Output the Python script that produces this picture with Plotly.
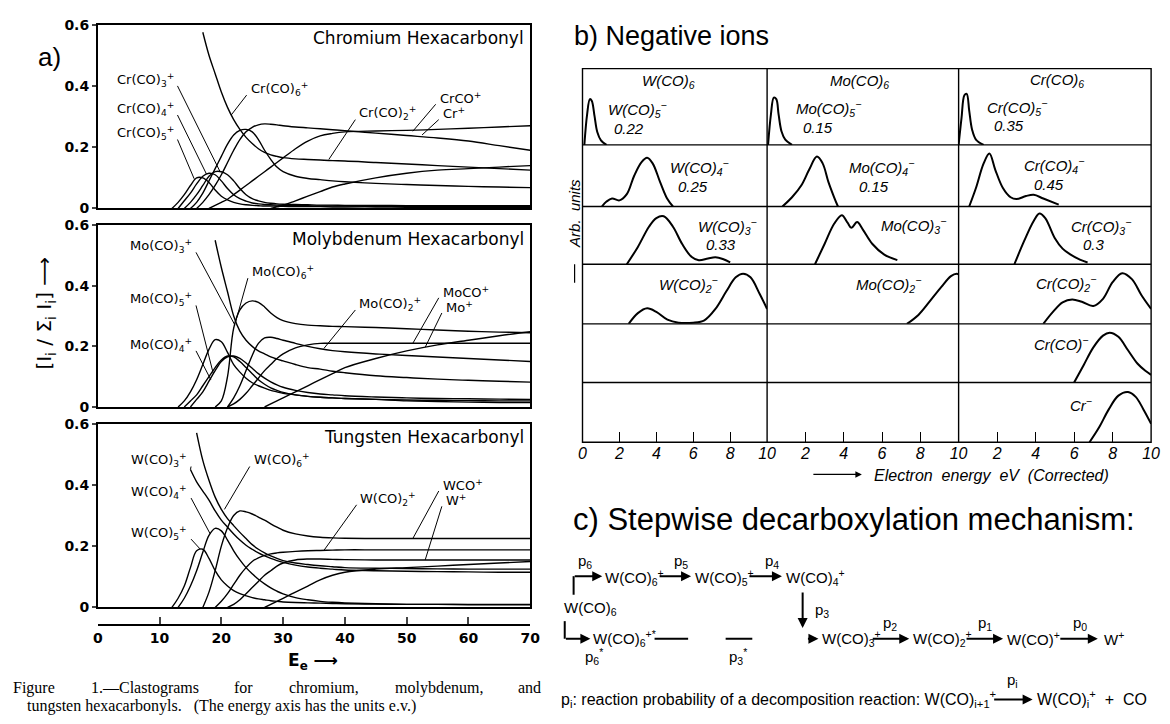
import plotly.graph_objects as go

N = None
# ---------------- a) clastograms: fraction of total ion current vs electron energy (eV)
E = [12, 13, 14, 15, 16, 17, 18, 19, 20, 21, 22, 23, 24, 25, 26, 27, 28, 29, 30,
     32, 34, 36, 38, 40, 45, 50, 55, 60, 65, 70]

CR_CO6 = [N, N, N, N, N, .575, .50, .44, .38, .33, .29, .258, .232, .212, .195, .183, .175, .17, .166,
          .162, .16, .158, .156, .155, .15, .145, .14, .135, .13, .125]
CR_A = [N, N, N, N, 0, .02, .045, .075, .11, .15, .19, .225, .25, .265, .273, .276, .275, .273, .27,
        .266, .263, .26, .257, .254, .246, .238, .23, .22, .205, .19]
CR_B = [N, N, N, 0, .02, .05, .09, .13, .17, .21, .24, .255, .258, .25, .225, .19, .16, .135, .12,
        .105, .098, .094, .09, .087, .082, .078, .075, .072, .07, .068]
CR_C = [N, N, N, N, N, N, 0, .01, .02, .03, .045, .06, .075, .09, .105, .12, .135, .15, .165,
        .195, .22, .237, .245, .25, .253, .255, .258, .262, .266, .27]
CR_CO5 = [0, .02, .045, .075, .10, .10, .085, .06, .04, .028, .02, .015, .012, .01, .009, .008, .008, .007, .007,
          .006, .006, .006, .005, .005, .005, .004, .004, .004, .004, .004]
CR_CO4 = [N, 0, .025, .05, .08, .105, .115, .11, .09, .065, .045, .032, .024, .018, .015, .013, .012, .011, .01,
          .009, .009, .008, .008, .008, .007, .007, .006, .006, .006, .006]
CR_CO3 = [N, N, 0, .02, .045, .075, .105, .12, .12, .11, .09, .065, .045, .032, .025, .02, .017, .015, .014,
          .013, .012, .011, .011, .01, .01, .009, .009, .009, .009, .009]
CR_PLUS = [N, N, N, N, N, N, N, N, N, N, N, N, N, N, N, N, 0, .005, .01,
           .025, .04, .055, .07, .08, .1, .115, .125, .13, .135, .14]

MO_CO6 = [N, N, N, N, N, N, N, .55, .46, .38, .30, .25, .22, .20, .185, .175, .165, .158, .152,
          .14, .13, .125, .118, .113, .103, .097, .092, .088, .085, .082]
MO_BIG = [N, N, N, N, N, N, N, 0, .02, .10, .26, .32, .343, .35, .345, .33, .31, .295, .285,
          .275, .27, .268, .266, .265, .262, .258, .254, .25, .247, .245]
MO_CO4 = [N, 0, .02, .05, .09, .14, .19, .222, .215, .18, .14, .115, .095, .08, .07, .062, .055, .05, .045,
          .04, .035, .032, .03, .028, .025, .023, .022, .021, .02, .02]
MO_CO5 = [N, N, 0, .02, .04, .07, .10, .13, .155, .168, .165, .15, .13, .11, .09, .075, .063, .055, .048,
          .04, .035, .032, .03, .028, .025, .02, .018, .016, .015, .015]
MO_CO5B = [N, N, N, 0, .025, .05, .085, .12, .15, .165, .168, .16, .145, .128, .11, .095, .083, .073, .065,
           .055, .048, .043, .04, .037, .033, .03, .028, .027, .026, .025]
MO_CO2 = [N, N, N, N, N, N, N, N, N, 0, .03, .07, .12, .17, .21, .228, .23, .226, .22,
          .21, .2, .192, .186, .182, .175, .17, .165, .16, .155, .15]
MO_CO1 = [N, N, N, N, N, N, N, N, N, 0, .01, .025, .045, .07, .095, .12, .14, .16, .175,
          .195, .205, .21, .21, .21, .21, .21, .21, .21, .21, .21]
MO_PLUS = [N, N, N, N, N, N, N, N, N, N, N, N, N, N, N, 0, .01, .02, .03,
           .05, .07, .09, .11, .13, .16, .185, .205, .22, .235, .248]

W_CO6 = [N, N, N, N, .57, .48, .415, .36, .32, .29, .267, .245, .225, .205, .19, .178, .168, .16, .153,
         .145, .14, .136, .133, .13, .128, .127, .126, .125, .125, .125]
W_CO3 = [N, N, N, .45, .41, .38, .35, .315, .285, .262, .24, .22, .203, .19, .178, .168, .16, .153, .147,
         .138, .132, .128, .125, .122, .12, .118, .117, .116, .115, .115]
W_CO5 = [0, .03, .07, .13, .185, .19, .16, .12, .09, .07, .055, .045, .038, .032, .028, .025, .022, .02, .018,
         .016, .015, .014, .013, .012, .011, .01, .01, .01, .01, .01]
W_CO4 = [N, 0, .03, .07, .12, .18, .235, .258, .25, .22, .185, .155, .13, .11, .092, .077, .064, .053, .044,
         .032, .025, .02, .017, .015, .012, .01, .01, .009, .009, .009]
W_BIG = [N, N, N, N, N, 0, .05, .12, .2, .26, .3, .315, .312, .305, .295, .285, .273, .262, .252,
         .24, .233, .229, .227, .226, .225, .225, .225, .225, .225, .225]
W_CO2 = [N, N, N, N, N, N, N, 0, .02, .045, .075, .105, .13, .15, .162, .17, .175, .178, .18,
         .183, .185, .186, .187, .188, .188, .188, .188, .188, .188, .188]
W_CO1 = [N, N, N, N, N, N, N, N, N, 0, .01, .025, .045, .065, .085, .105, .12, .135, .145,
         .155, .158, .158, .157, .156, .155, .155, .155, .155, .155, .155]
W_PLUS = [N, N, N, N, N, N, N, N, N, N, N, N, N, N, N, 0, .01, .02, .03,
          .05, .07, .09, .105, .115, .125, .13, .135, .14, .145, .15]

A_TICKS = [0, 10, 20, 30, 40, 50, 60, 70]
A_YTICKS = [0, 0.2, 0.4, 0.6]
A_YTEXT = ["0", "0.2", "0.4", "0.6"]

# ---------------- b) negative ions: energy (eV) and relative yield within each cell
W5_E = [0.1, 0.25, 0.4, 0.5, 0.65, 0.8, 1.0, 1.3]
W5_I = [0, 0.4, 0.6, 0.58, 0.38, 0.17, 0.06, 0]
MO5_E = [0.05, 0.2, 0.35, 0.48, 0.6, 0.75, 0.95, 1.3]
MO5_I = [0, 0.4, 0.62, 0.6, 0.4, 0.18, 0.07, 0]
CR5_E = [0.0, 0.15, 0.3, 0.42, 0.55, 0.7, 0.9, 1.3]
CR5_I = [0, 0.35, 0.65, 0.67, 0.45, 0.2, 0.07, 0]
W4_E = [1.05, 1.3, 1.6, 2.0, 2.4, 2.8, 3.2, 3.5, 3.8, 4.2, 4.6, 4.9]
W4_I = [0, 0.08, 0.13, 0.1, 0.2, 0.5, 0.72, 0.79, 0.7, 0.4, 0.12, 0]
MO4_E = [0.8, 1.3, 1.8, 2.2, 2.6, 2.9, 3.2, 3.5, 3.7]
MO4_I = [0, 0.15, 0.35, 0.6, 0.81, 0.7, 0.4, 0.15, 0]
CR4_E = [0.55, 0.9, 1.3, 1.6, 1.9, 2.3, 2.7, 3.0, 3.5, 3.9, 4.4, 5.2]
CR4_I = [0, 0.3, 0.7, 0.86, 0.6, 0.3, 0.15, 0.12, 0.17, 0.19, 0.13, 0.03]
W3_E = [2.4, 3.0, 3.6, 4.0, 4.4, 4.9, 5.4, 5.9, 6.3, 6.8, 7.2, 7.6, 8.0]
W3_I = [0, 0.3, 0.65, 0.8, 0.83, 0.65, 0.35, 0.13, 0.07, 0.1, 0.12, 0.09, 0.03]
MO3_E = [2.5, 3.0, 3.5, 3.9, 4.2, 4.4, 4.7, 5.0, 5.5, 6.1, 6.8]
MO3_I = [0, 0.35, 0.7, 0.85, 0.72, 0.63, 0.73, 0.6, 0.35, 0.17, 0.07]
CR3_E = [2.9, 3.4, 3.9, 4.2, 4.5, 5.0, 5.4, 5.8, 6.3, 6.7]
CR3_I = [0, 0.4, 0.75, 0.88, 0.8, 0.45, 0.27, 0.17, 0.08, 0.03]
W2_E = [2.5, 3.0, 3.5, 4.0, 4.6, 5.2, 6.0, 6.6, 7.2, 7.8, 8.3, 8.7, 9.1, 9.6, 10.0]
W2_I = [0, 0.18, 0.26, 0.2, 0.07, 0.02, 0.02, 0.06, 0.25, 0.55, 0.78, 0.84, 0.78, 0.5, 0.25]
MO2_E = [7.3, 7.9, 8.5, 9.1, 9.6, 9.9, 10.0]
MO2_I = [0, 0.15, 0.38, 0.62, 0.8, 0.84, 0.83]
CR2_E = [4.4, 4.9, 5.4, 5.9, 6.4, 7.0, 7.5, 8.0, 8.5, 9.0, 9.5, 10.0]
CR2_I = [0, 0.2, 0.36, 0.41, 0.37, 0.3, 0.42, 0.7, 0.85, 0.75, 0.48, 0.25]
CR1_E = [6.0, 6.5, 7.0, 7.5, 7.85, 8.3, 8.8, 9.3, 9.7, 10.0]
CR1_I = [0, 0.3, 0.6, 0.8, 0.85, 0.78, 0.55, 0.32, 0.2, 0.13]
CR0_E = [6.8, 7.3, 7.8, 8.3, 8.8, 9.2, 9.6, 10.0]
CR0_I = [0, 0.25, 0.55, 0.78, 0.84, 0.76, 0.55, 0.31]

B_TICKS_FIRST = [0, 2, 4, 6, 8, 10]
B_TICKS = [2, 4, 6, 8, 10]

# ---------------- layout helpers (pixel -> paper)
WID, HEI = 1170, 724


def px(x):
    return x / WID


def py(y):
    return 1 - y / HEI


FONT = "Liberation Sans"
WIDE = "DejaVu Sans"
SERIF = "Liberation Serif"
NB = "\u00a0"
fig = go.Figure()

# ---------- a) axes
A_XDOM = [px(94), px(532)]
a_ydoms = [[py(205), py(17)], [py(408), py(222)], [py(613), py(425)]]
for i, yd in enumerate(a_ydoms):
    sfx = "" if i == 0 else str(i + 1)
    fig.layout["xaxis" + sfx] = dict(domain=A_XDOM, range=[0, 70], anchor="y" + sfx, showline=True,
                                     mirror=True, linecolor="black", linewidth=1.6, ticks="",
                                     showticklabels=False, showgrid=False, zeroline=False)
    fig.layout["yaxis" + sfx] = dict(domain=yd, range=[0, 0.6], anchor="x" + sfx, showline=True,
                                     mirror=True, linecolor="black", linewidth=1.6, ticks="outside",
                                     ticklen=4, tickwidth=1.5, tickvals=A_YTICKS, ticktext=A_YTEXT,
                                     tickfont=dict(family=WIDE, size=14, color="black", weight="bold"),
                                     showgrid=False, zeroline=False)
# separate energy axis below the three panels
fig.layout["xaxis4"] = dict(domain=A_XDOM, range=[0, 70], anchor="free", overlaying="x3", position=py(631),
                            showline=True, linecolor="black", linewidth=2, ticks="inside", ticklen=7,
                            tickwidth=1.5, tickvals=A_TICKS,
                            tickfont=dict(family=WIDE, size=14, color="black", weight="bold"),
                            showgrid=False, zeroline=False)
fig.add_trace(go.Scatter(x=[0, 70], y=[None, None], xaxis="x4", yaxis="y3", showlegend=False,
                         hoverinfo="skip"))

curves = [
    ("", CR_CO6), ("", CR_A), ("", CR_B), ("", CR_C), ("", CR_CO5), ("", CR_CO4), ("", CR_CO3), ("", CR_PLUS),
    ("2", MO_CO6), ("2", MO_BIG), ("2", MO_CO4), ("2", MO_CO5), ("2", MO_CO5B), ("2", MO_CO2), ("2", MO_CO1),
    ("2", MO_PLUS),
    ("3", W_CO6), ("3", W_CO3), ("3", W_CO5), ("3", W_CO4), ("3", W_BIG), ("3", W_CO2), ("3", W_CO1),
    ("3", W_PLUS),
]
for sfx, ys in curves:
    fig.add_trace(go.Scatter(x=E, y=ys, mode="lines", xaxis="x" + sfx, yaxis="y" + sfx,
                             line=dict(color="black", width=1.4, shape="spline", smoothing=1.0),
                             connectgaps=False, showlegend=False, hoverinfo="skip"))

annotations = []
shapes = []

# panel titles
for sfx, title in [("", "Chromium Hexacarbonyl"), ("2", "Molybdenum Hexacarbonyl"), ("3", "Tungsten Hexacarbonyl")]:
    annotations.append(dict(xref="x" + sfx, yref="y" + sfx, x=69.4, y=0.555, text=title, showarrow=False,
                            xanchor="right", yanchor="middle", font=dict(family=WIDE, size=17, color="black")))

# ion labels with leader lines: (panel, text, label x, label y, anchor, head x, head y)
A_LABELS = [
    ("", "Cr(CO)<sub>3</sub><sup>+</sup>", 12.6, 0.42, "right", 19.8, 0.12),
    ("", "Cr(CO)<sub>4</sub><sup>+</sup>", 12.6, 0.325, "right", 17.6, 0.112),
    ("", "Cr(CO)<sub>5</sub><sup>+</sup>", 12.6, 0.245, "right", 15.6, 0.097),
    ("", "Cr(CO)<sub>6</sub><sup>+</sup>", 24.4, 0.39, "left", 21.6, 0.305),
    ("", "Cr(CO)<sub>2</sub><sup>+</sup>", 42.0, 0.31, "left", 37.4, 0.16),
    ("", "CrCO<sup>+</sup>", 55.0, 0.36, "left", 51.0, 0.252),
    ("", "Cr<sup>+</sup>", 55.5, 0.31, "left", 52.5, 0.24),
    ("2", "Mo(CO)<sub>3</sub><sup>+</sup>", 15.6, 0.53, "right", 22.2, 0.27),
    ("2", "Mo(CO)<sub>5</sub><sup>+</sup>", 15.6, 0.355, "right", 18.7, 0.11),
    ("2", "Mo(CO)<sub>4</sub><sup>+</sup>", 15.6, 0.205, "right", 18.3, 0.09),
    ("2", "Mo(CO)<sub>6</sub><sup>+</sup>", 24.6, 0.445, "left", 22.3, 0.28),
    ("2", "Mo(CO)<sub>2</sub><sup>+</sup>", 42.0, 0.34, "left", 36.6, 0.193),
    ("2", "MoCO<sup>+</sup>", 55.5, 0.38, "left", 51.0, 0.21),
    ("2", "Mo<sup>+</sup>", 56.0, 0.33, "left", 53.0, 0.197),
    ("3", "W(CO)<sub>3</sub><sup>+</sup>", 14.8, 0.48, "right", 15.0, 0.45),
    ("3", "W(CO)<sub>4</sub><sup>+</sup>", 14.8, 0.377, "right", 18.2, 0.24),
    ("3", "W(CO)<sub>5</sub><sup>+</sup>", 14.8, 0.243, "right", 16.6, 0.19),
    ("3", "W(CO)<sub>6</sub><sup>+</sup>", 24.9, 0.48, "left", 20.5, 0.32),
    ("3", "W(CO)<sub>2</sub><sup>+</sup>", 42.2, 0.355, "left", 36.6, 0.186),
    ("3", "WCO<sup>+</sup>", 55.5, 0.40, "left", 51.0, 0.225),
    ("3", "W<sup>+</sup>", 56.0, 0.35, "left", 53.0, 0.155),
]
for sfx, txt, lx, ly, anc, hx, hy in A_LABELS:
    annotations.append(dict(xref="x" + sfx, yref="y" + sfx, x=lx, y=ly, text=txt, showarrow=False,
                            xanchor=anc, yanchor="middle", font=dict(family=WIDE, size=13, color="black")))
    tx = lx + (0.3 if anc == "right" else -0.3)
    shapes.append(dict(type="line", xref="x" + sfx, yref="y" + sfx, x0=tx, y0=ly - 0.02, x1=hx, y1=hy,
                       line=dict(color="black", width=1)))

annotations += [
    dict(xref="paper", yref="paper", x=px(45), y=py(50), text="a)", showarrow=False, xanchor="center",
         yanchor="middle", font=dict(family=FONT, size=26, color="black")),
    dict(xref="paper", yref="paper", x=px(41), y=py(312), textangle=-90,
         text="[I<sub>i</sub> / Σ<sub>i</sub> I<sub>i</sub>] ⟶", showarrow=False, xanchor="center",
         yanchor="middle", font=dict(family=WIDE, size=20, color="black")),
    dict(xref="paper", yref="paper", x=px(312), y=py(668), text="<b>E<sub>e</sub> ⟶</b>", showarrow=False,
         xanchor="center", yanchor="middle", font=dict(family=WIDE, size=17, color="black")),
]
# caption (justified first line set word by word)
CAPTION_1 = [(6, "Figure"), (85, "1.—Clastograms"), (230, "for"), (286, "chromium,"),
             (393, "molybdenum,"), (518, "and")]
CAPTION_2 = "tungsten" + NB + "hexacarbonyls." + NB * 3 + "(The energy axis has the units e.v.)"
for x, w in CAPTION_1:
    annotations.append(dict(xref="paper", yref="paper", x=px(x), y=py(695), text=w, showarrow=False,
                            xanchor="left", yanchor="middle", font=dict(family=SERIF, size=16, color="black")))
annotations.append(dict(xref="paper", yref="paper", x=px(20), y=py(714), text=CAPTION_2, showarrow=False,
                        xanchor="left", yanchor="middle", font=dict(family=SERIF, size=16, color="black")))

# ---------- b) negative ions grid
COLS = [(585, 772), (772, 966), (966, 1161)]
ROWS = [(62, 140), (140, 203), (203, 262), (262, 323), (323, 383), (383, 444)]
for c, (x0, x1) in enumerate(COLS):
    k = 5 + c
    tv = B_TICKS_FIRST if c == 0 else B_TICKS
    fig.layout["xaxis%d" % k] = dict(domain=[px(x0), px(x1)], range=[0, 10], anchor="y10", showline=False,
                                     ticks="inside", ticklen=10, tickwidth=1.2, tickcolor="black",
                                     tickvals=tv, ticktext=["<i>%d</i>" % v for v in tv],
                                     tickfont=dict(family=FONT, size=16, color="black"),
                                     showgrid=False, zeroline=False)
for r, (y0, y1) in enumerate(ROWS):
    k = 5 + r
    fig.layout["yaxis%d" % k] = dict(domain=[py(y1), py(y0)], range=[0, 1], anchor="x5", visible=False,
                                     showgrid=False, zeroline=False)

B_CURVES = [
    (0, 0, W5_E, W5_I), (1, 0, MO5_E, MO5_I), (2, 0, CR5_E, CR5_I),
    (0, 1, W4_E, W4_I), (1, 1, MO4_E, MO4_I), (2, 1, CR4_E, CR4_I),
    (0, 2, W3_E, W3_I), (1, 2, MO3_E, MO3_I), (2, 2, CR3_E, CR3_I),
    (0, 3, W2_E, W2_I), (1, 3, MO2_E, MO2_I), (2, 3, CR2_E, CR2_I),
    (2, 4, CR1_E, CR1_I), (2, 5, CR0_E, CR0_I),
]
for c, r, xs, ys in B_CURVES:
    fig.add_trace(go.Scatter(x=xs, y=ys, mode="lines", xaxis="x%d" % (5 + c), yaxis="y%d" % (5 + r),
                             line=dict(color="black", width=2, shape="spline", smoothing=1.0),
                             showlegend=False, hoverinfo="skip"))

# grid lines
GL = dict(color="black", width=1.4)
shapes.append(dict(type="rect", xref="paper", yref="paper", x0=px(585), x1=px(1161), y0=py(444), y1=py(62),
                   line=GL))
for xv in (772, 966):
    shapes.append(dict(type="line", xref="paper", yref="paper", x0=px(xv), x1=px(xv), y0=py(444), y1=py(62),
                       line=GL))
for yv in (140, 203, 262, 323, 383):
    shapes.append(dict(type="line", xref="paper", yref="paper", x0=px(585), x1=px(1161), y0=py(yv), y1=py(yv),
                       line=GL))

IT = dict(family=FONT, size=15, color="black")
B_LABELS = [
    (672, 75, "W(CO)<sub>6</sub>", "center"), (866, 75, "Mo(CO)<sub>6</sub>", "center"),
    (1066, 74, "Cr(CO)<sub>6</sub>", "center"),
    (609, 104, "W(CO)<sub>5</sub><sup>−</sup>", "left"), (615, 123, "0.22", "left"),
    (799, 103, "Mo(CO)<sub>5</sub><sup>−</sup>", "left"), (806, 122, "0.15", "left"),
    (993, 102, "Cr(CO)<sub>5</sub><sup>−</sup>", "left"), (1000, 120, "0.35", "left"),
    (672, 163, "W(CO)<sub>4</sub><sup>−</sup>", "left"), (680, 183, "0.25", "left"),
    (853, 163, "Mo(CO)<sub>4</sub><sup>−</sup>", "left"), (863, 183, "0.15", "left"),
    (1030, 161, "Cr(CO)<sub>4</sub><sup>−</sup>", "left"), (1040, 180, "0.45", "left"),
    (700, 223, "W(CO)<sub>3</sub><sup>−</sup>", "left"), (708, 242, "0.33", "left"),
    (885, 222, "Mo(CO)<sub>3</sub><sup>−</sup>", "left"),
    (1078, 223, "Cr(CO)<sub>3</sub><sup>−</sup>", "left"), (1090, 242, "0.3", "left"),
    (660, 283, "W(CO)<sub>2</sub><sup>−</sup>", "left"),
    (860, 283, "Mo(CO)<sub>2</sub><sup>−</sup>", "left"),
    (1042, 282, "Cr(CO)<sub>2</sub><sup>−</sup>", "left"),
    (1040, 343, "Cr(CO)<sup>−</sup>", "left"),
    (1077, 405, "Cr<sup>−</sup>", "left"),
]
for x, y, t, anc in B_LABELS:
    annotations.append(dict(xref="paper", yref="paper", x=px(x), y=py(y), text="<i>%s</i>" % t,
                            showarrow=False, xanchor=anc, yanchor="middle", font=IT))

annotations += [
    dict(xref="paper", yref="paper", x=px(574), y=py(29), text="b) Negative ions", showarrow=False,
         xanchor="left", yanchor="middle", font=dict(family=FONT, size=27, color="black")),
    dict(xref="paper", yref="paper", x=px(577), y=py(210), text="<i>Arb." + NB + NB + "units</i>", textangle=-90,
         showarrow=False, xanchor="center", yanchor="middle", font=IT),
    dict(xref="paper", yref="paper", x=px(577), y=py(262), ax=0, ay=20, text="", showarrow=True,
         arrowhead=0, arrowwidth=1.2, arrowcolor="black"),
    dict(xref="paper", yref="paper", x=px(878), y=py(478),
         text="<i>Electron" + NB + NB + "energy" + NB + NB + "eV" + NB + NB + "(Corrected)</i>",
         showarrow=False, xanchor="left", yanchor="middle", font=dict(family=FONT, size=16, color="black")),
    dict(xref="paper", yref="paper", x=px(868), y=py(477), ax=-50, ay=0, text="", showarrow=True,
         arrowhead=2, arrowsize=1, arrowwidth=1.3, arrowcolor="black"),
]

# ---------- c) mechanism
annotations.append(dict(xref="paper", yref="paper", x=px(573), y=py(523),
                        text="c) Stepwise decarboxylation mechanism:", showarrow=False, xanchor="left",
                        yanchor="middle", font=dict(family=FONT, size=31, color="black")))
C_TEXT = [
    (564, 614, "W(CO)<sub>6</sub>"),
    (578, 566, "p<sub>6</sub>"),
    (606, 582, "W(CO)<sub>6</sub><sup>+</sup>"), (676, 566, "p<sub>5</sub>"),
    (697, 582, "W(CO)<sub>5</sub><sup>+</sup>"), (768, 566, "p<sub>4</sub>"),
    (789, 582, "W(CO)<sub>4</sub><sup>+</sup>"),
    (818, 616, "p<sub>3</sub>"),
    (594, 645, "W(CO)<sub>6</sub><sup>+*</sup>"), (585, 663, "p<sub>6</sub><sup>*</sup>"),
    (731, 663, "p<sub>3</sub><sup>*</sup>"),
    (826, 645, "W(CO)<sub>3</sub><sup>+</sup>"), (887, 629, "p<sub>2</sub>"),
    (918, 645, "W(CO)<sub>2</sub><sup>+</sup>"), (984, 629, "p<sub>1</sub>"),
    (1013, 645, "W(CO)<sup>+</sup>"), (1080, 629, "p<sub>0</sub>"),
    (1111, 645, "W<sup>+</sup>"),
    (561, 707, "p<sub>i</sub>: reaction probability of a decomposition reaction: W(CO)<sub>i+1</sub><sup>+</sup>"),
    (1013, 688, "p<sub>i</sub>"),
    (1043, 707, "W(CO)<sub>i</sub><sup>+</sup>" + NB * 2 + "+" + NB * 2 + "CO"),
]
for x, y, t in C_TEXT:
    fs = 16 if y == 707 else 15
    annotations.append(dict(xref="paper", yref="paper", x=px(x), y=py(y), text=t, showarrow=False,
                            xanchor="left", yanchor="middle", font=dict(family=FONT, size=fs, color="black")))

C_ARROWS = [  # (tail x, tail y, head x, head y)
    (576, 581, 605, 581), (662, 581, 695, 581), (753, 581, 787, 581), (808, 597, 808, 634),
    (567, 645, 593, 645), (812, 645, 824, 645), (878, 645, 916, 645), (973, 645, 1011, 645),
    (1068, 645, 1107, 645), (1001, 707, 1041, 707),
]
for tx, ty, hx, hy in C_ARROWS:
    annotations.append(dict(xref="paper", yref="paper", x=px(hx), y=py(hy), ax=tx - hx, ay=ty - hy, text="",
                            showarrow=True, arrowhead=2, arrowsize=1, arrowwidth=2, arrowcolor="black"))
for x0, y0, x1, y1 in [(576, 600, 576, 581), (567, 627, 567, 645), (658, 645, 692, 645), (730, 645, 757, 645)]:
    shapes.append(dict(type="line", xref="paper", yref="paper", x0=px(x0), y0=py(y0), x1=px(x1), y1=py(y1),
                       line=dict(color="black", width=2)))

fig.update_layout(width=WID, height=HEI, margin=dict(l=0, r=0, t=0, b=0), paper_bgcolor="white",
                  plot_bgcolor="rgba(0,0,0,0)", showlegend=False, annotations=annotations, shapes=shapes,
                  font=dict(family=FONT, color="black"))
fig.write_html("out.html")
